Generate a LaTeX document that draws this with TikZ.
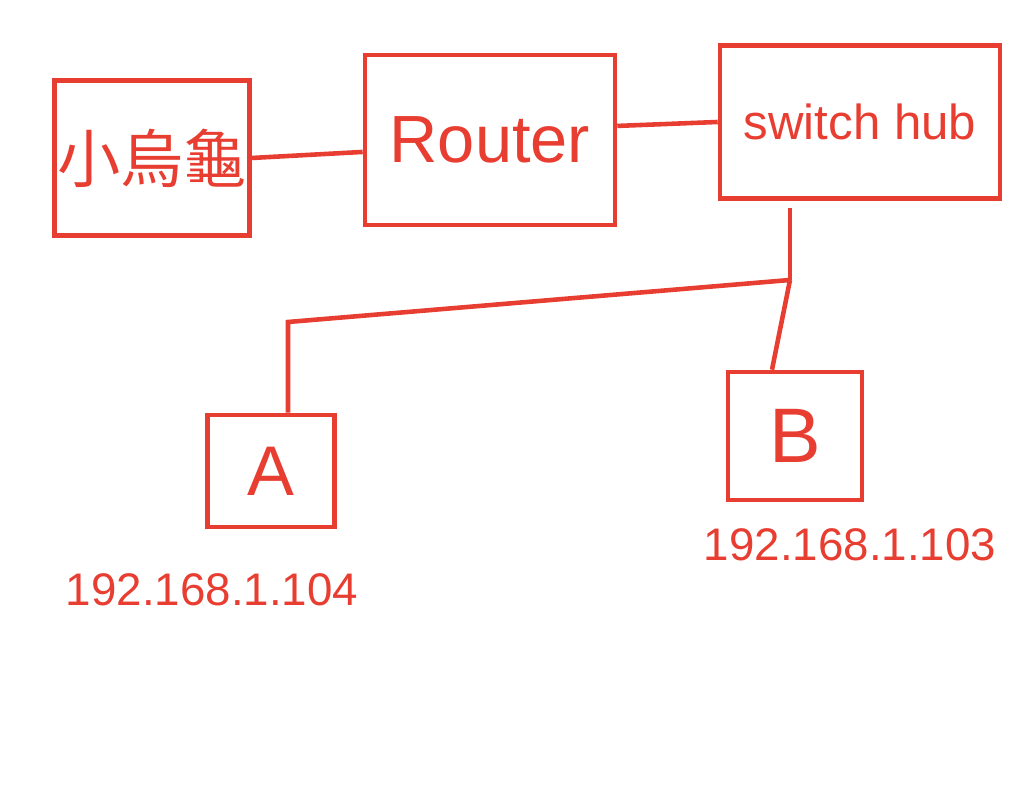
\documentclass[tikz,border=0pt]{standalone}
\usepackage{fontspec}
\setmainfont{Liberation Sans}
\newfontfamily\cjk{Noto Sans CJK TC}
\usetikzlibrary{positioning}
\definecolor{penred}{RGB}{232,62,50}

\begin{document}
\begin{tikzpicture}[
    box/.style={draw=penred, line width=1.3pt, text=penred, inner sep=0pt},
    wire/.style={draw=penred, line width=1.3pt},
    ip/.style={text=penred, font=\fontsize{13}{15}\selectfont}
  ]
  \useasboundingbox (0,0) rectangle (10.24,8.00);
  % top row
  \node[box, minimum width=1.95cm, minimum height=1.55cm, font=\cjk\fontsize{18}{20}\selectfont] (modem) at (1.52,6.42) {小烏龜};
  \node[box, minimum width=2.5cm, minimum height=1.7cm, font=\fontsize{19}{22}\selectfont] (router) at (4.90,6.60) {Router};
  \node[box, minimum width=2.8cm, minimum height=1.53cm, font=\fontsize{14}{16}\selectfont] (switch) at (8.60,6.78) {switch hub};
  % hosts
  \node[box, minimum width=1.27cm, minimum height=1.12cm, font=\fontsize{20}{23}\selectfont] (hostA) at (2.71,3.29) {A};
  \node[box, minimum width=1.34cm, minimum height=1.28cm, font=\fontsize{22}{25}\selectfont] (hostB) at (7.95,3.64) {B};
  \node[ip] (ipA) at (2.12,2.10) {192.168.1.104};
  \node[ip] (ipB) at (8.50,2.55) {192.168.1.103};
  % links
  \coordinate (split) at (7.90,5.20);
  \coordinate (turnA) at (2.88,4.78);
  \draw[wire] (modem.east) -- ([yshift=-3.4pt]router.west);
  \draw[wire] ([yshift=4pt]router.east) -- (switch.west);
  \draw[wire] ([yshift=-2pt]switch.south -| split) -- (split);
  \draw[wire] (split) -- (turnA) -- (hostA.north -| turnA);
  \draw[wire] (split) -- ([xshift=-0.23cm]hostB.north);
\end{tikzpicture}
\end{document}
